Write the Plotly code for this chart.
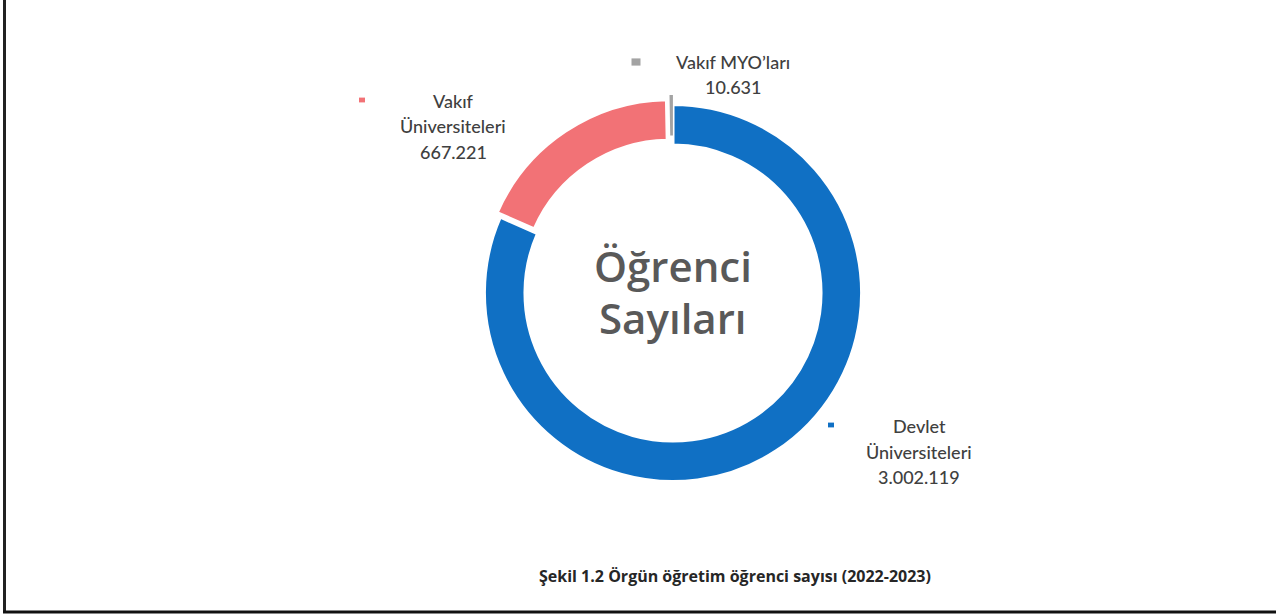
import plotly.graph_objects as go

W, H = 1276, 614

# ---- data ----
categories = ["Devlet Üniversiteleri", "Vakıf Üniversiteleri", "Vakıf MYO’ları"]
label_lines = [["Devlet", "Üniversiteleri"], ["Vakıf", "Üniversiteleri"], ["Vakıf MYO’ları"]]
values = [3002119, 667221, 10631]
value_labels = ["3.002.119", "667.221", "10.631"]
colors = ["#1070C4", "#F27276", "#A3A3A3"]
center_lines = ["Öğrenci", "Sayıları"]
caption = "Şekil 1.2 Örgün öğretim öğrenci sayısı (2022-2023)"

def px(x):
    return x / W

def py(y):
    return 1 - y / H

cx, cy, R = 673, 293, 198

fig = go.Figure(go.Pie(
    labels=categories,
    values=values,
    sort=False,
    direction="clockwise",
    rotation=0,
    hole=0.785,
    pull=[0, 0.03, 0.05],
    textinfo="none",
    hoverinfo="label+value",
    marker=dict(colors=colors, line=dict(color="white", width=[3, 3, 0])),
    domain=dict(x=[px(cx - R), px(cx + R)], y=[py(cy + R), py(cy - R)]),
    showlegend=False,
))

annotations = []
shapes = []

label_font = dict(family="Lato, Open Sans, sans-serif", size=18, color="#404040", weight=500)

# label block positions (text centre x, first line y, marker x, marker y, marker size)
blocks = [
    (919, 426, 831, 425, 6),
    (453, 101, 362, 100, 6),
    (733, 62, 636, 62, 9),
]
for i, (tx, ty, mx, my, ms) in enumerate(blocks):
    lines = label_lines[i] + [value_labels[i]]
    for j, ln in enumerate(lines):
        annotations.append(dict(
            x=px(tx), y=py(ty + j * 25.5), xref="paper", yref="paper",
            text=ln, showarrow=False, xanchor="center", yanchor="middle",
            font=label_font,
        ))
    shapes.append(dict(
        type="rect", xref="paper", yref="paper",
        x0=px(mx - ms / 2), x1=px(mx + ms / 2),
        y0=py(my + ms * 0.4), y1=py(my - ms * 0.4),
        fillcolor=colors[i], line=dict(width=0),
    ))

for j, ln in enumerate(center_lines):
    annotations.append(dict(
        x=px(cx), y=py(265 + j * 52), xref="paper", yref="paper",
        text=ln, showarrow=False, xanchor="center", yanchor="middle",
        font=dict(family="Open Sans, sans-serif", size=42, color="#595959", weight=600),
    ))

annotations.append(dict(
    x=px(735), y=py(576), xref="paper", yref="paper",
    text=caption, showarrow=False, xanchor="center", yanchor="middle",
    font=dict(family="Open Sans, sans-serif", size=16, color="#262626", weight="bold"),
))

# frame lines (left and bottom)
shapes.append(dict(type="line", xref="paper", yref="paper",
                   x0=px(4.5), x1=px(4.5), y0=py(613), y1=1,
                   line=dict(color="#222222", width=3)))
shapes.append(dict(type="line", xref="paper", yref="paper",
                   x0=px(3), x1=1, y0=py(612), y1=py(612),
                   line=dict(color="#111111", width=3)))

fig.update_layout(
    width=W, height=H,
    margin=dict(l=0, r=0, t=0, b=0),
    paper_bgcolor="white", plot_bgcolor="white",
    annotations=annotations, shapes=shapes,
)

fig.write_html("out.html", config={"displayModeBar": False},
               post_script="document.body.style.margin='0';")
